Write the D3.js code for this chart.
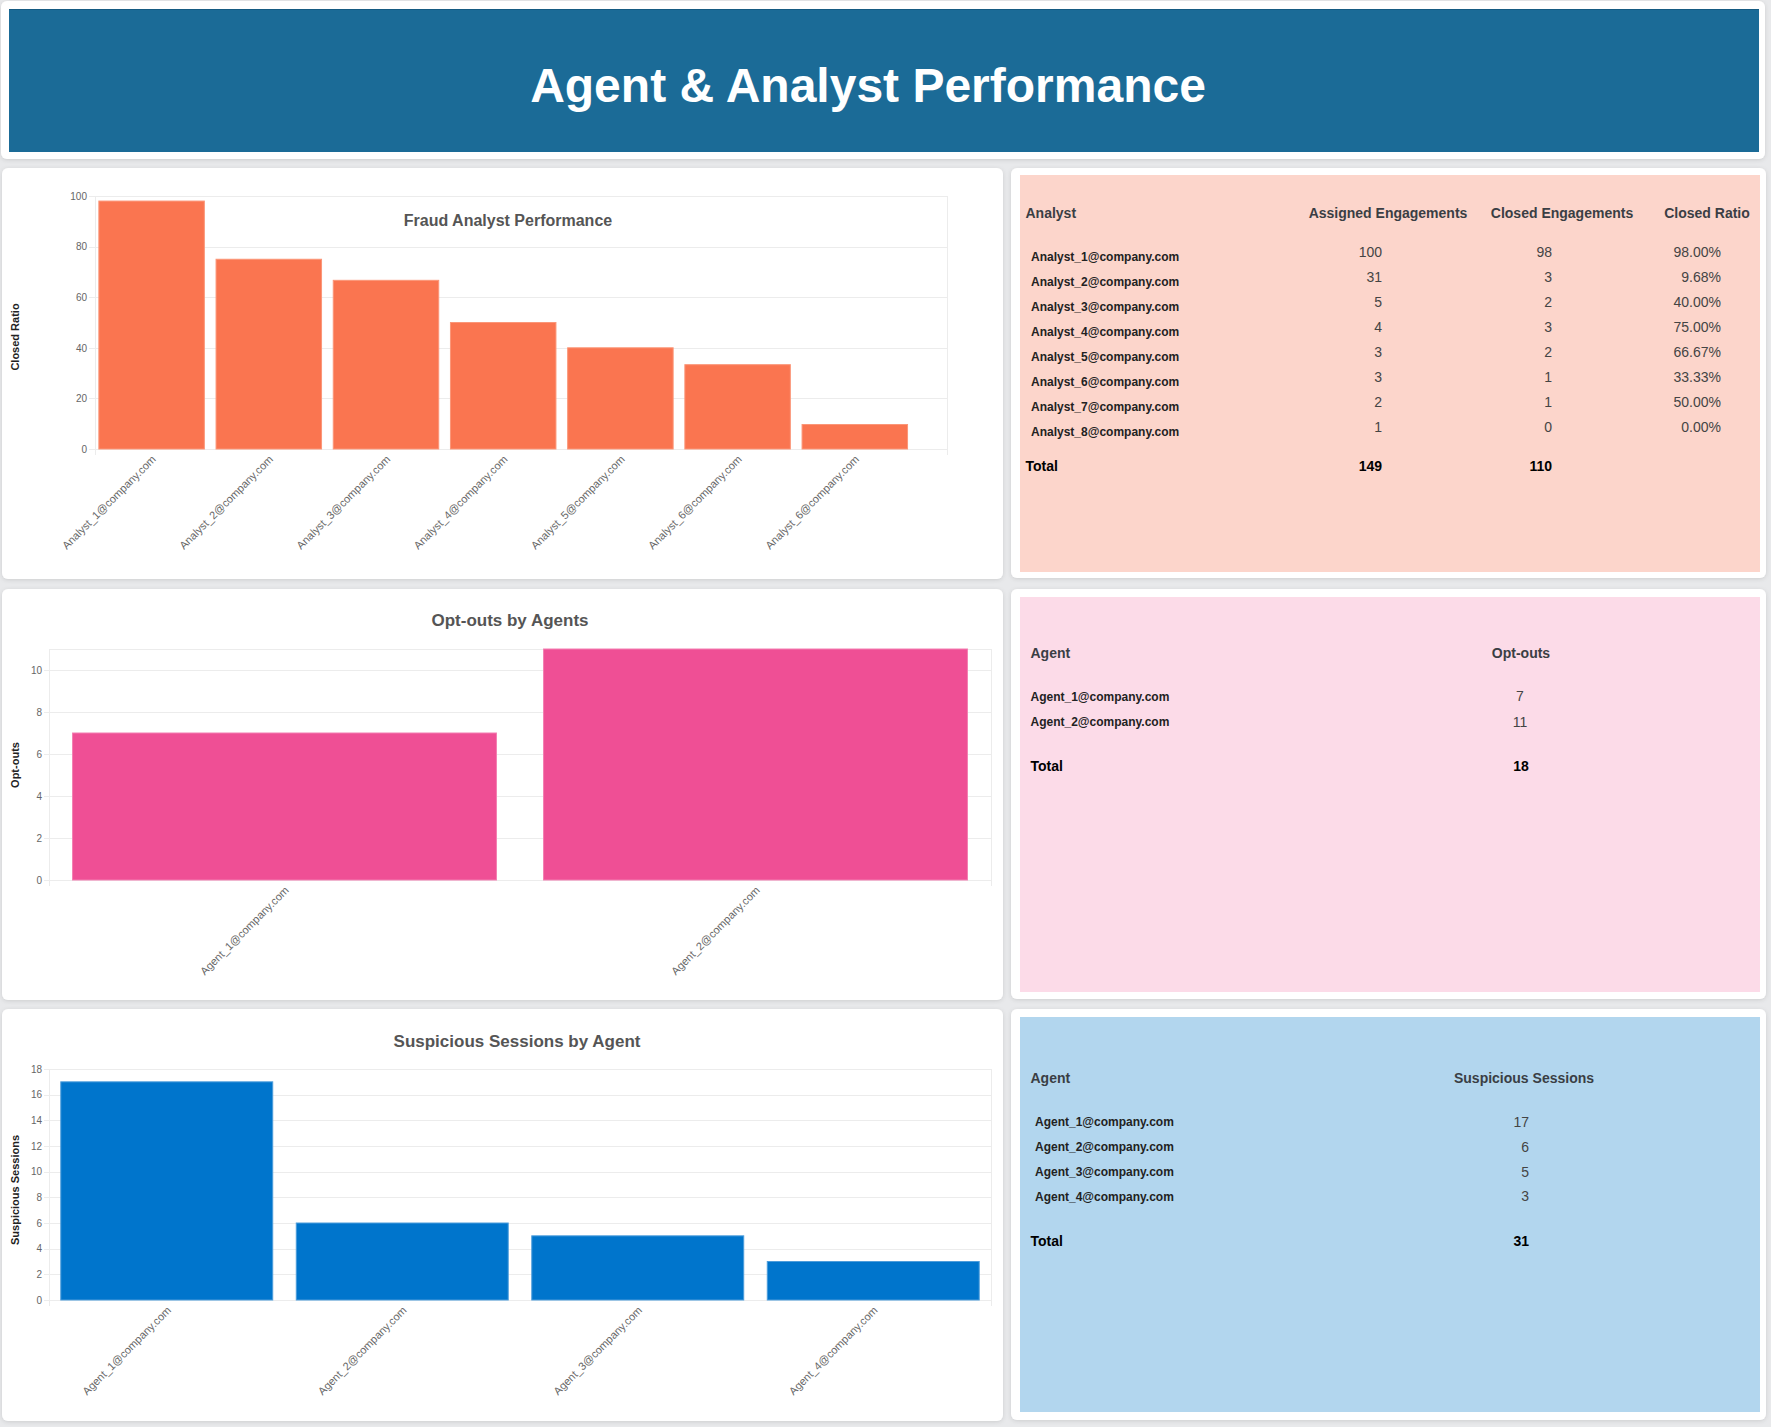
<!DOCTYPE html>
<html>
<head>
<meta charset="utf-8">
<script src="https://cdn.jsdelivr.net/npm/d3@7"></script>
<style>
  html, body { margin: 0; padding: 0; background: #e8e9eb; }
  svg { display: block; font-family: "Liberation Sans", Arial, sans-serif; }
</style>
</head>
<body>
<svg id="root" width="1771" height="1427"></svg>
<script>
// ---------- DATA ----------
const pageTitle = "Agent & Analyst Performance";

const ratioChartTitle = "Fraud Analyst Performance";
const ratioChartYLabel = "Closed Ratio";
const ratioChartCategories = ["Analyst_1@company.com","Analyst_2@company.com","Analyst_3@company.com","Analyst_4@company.com","Analyst_5@company.com","Analyst_6@company.com","Analyst_6@company.com"];
const ratioChartValues = [98, 75, 66.67, 50, 40, 33.33, 9.68];
const ratioChartTicks = [0, 20, 40, 60, 80, 100];

const analystHeaders = ["Analyst", "Assigned Engagements", "Closed Engagements", "Closed Ratio"];
const analystNames = ["Analyst_1@company.com","Analyst_2@company.com","Analyst_3@company.com","Analyst_4@company.com","Analyst_5@company.com","Analyst_6@company.com","Analyst_7@company.com","Analyst_8@company.com"];
const analystAssigned = [100, 31, 5, 4, 3, 3, 2, 1];
const analystClosed = [98, 3, 2, 3, 2, 1, 1, 0];
const analystRatio = ["98.00%", "9.68%", "40.00%", "75.00%", "66.67%", "33.33%", "50.00%", "0.00%"];
const analystTotals = ["Total", "149", "110"];

const optTitle = "Opt-outs by Agents";
const optYLabel = "Opt-outs";
const optAgents = ["Agent_1@company.com", "Agent_2@company.com"];
const optValues = [7, 11];
const optTicks = [0, 2, 4, 6, 8, 10];
const optHeaders = ["Agent", "Opt-outs"];
const optTotal = ["Total", "18"];

const suspTitle = "Suspicious Sessions by Agent";
const suspYLabel = "Suspicious Sessions";
const suspAgents = ["Agent_1@company.com", "Agent_2@company.com", "Agent_3@company.com", "Agent_4@company.com"];
const suspValues = [17, 6, 5, 3];
const suspTicks = [0, 2, 4, 6, 8, 10, 12, 14, 16, 18];
const suspHeaders = ["Agent", "Suspicious Sessions"];
const suspTotal = ["Total", "31"];

// ---------- DRAW ----------
const svg = d3.select("#root");
const defs = svg.append("defs");
const f = defs.append("filter").attr("id", "sh").attr("x", "-5%").attr("y", "-5%").attr("width", "110%").attr("height", "115%");
f.append("feDropShadow").attr("dx", 0).attr("dy", 1).attr("stdDeviation", 2).attr("flood-color", "#000").attr("flood-opacity", 0.12);

function card(x, y, w, h) {
  svg.append("rect").attr("x", x).attr("y", y).attr("width", w).attr("height", h)
    .attr("rx", 6).attr("fill", "#fff").attr("filter", "url(#sh)");
}

// header
card(1, 1, 1764, 158);
svg.append("rect").attr("x", 9).attr("y", 9).attr("width", 1750).attr("height", 143).attr("fill", "#1b6b97");
svg.append("line").attr("x1", 9).attr("x2", 1759).attr("y1", 9.5).attr("y2", 9.5).attr("stroke", "#155b82");
svg.append("text").attr("x", 868).attr("y", 102).attr("text-anchor", "middle")
  .attr("font-size", 48).attr("font-weight", "bold").attr("fill", "#fff").text(pageTitle);

// cards
card(2, 168, 1001, 411);
card(2, 589, 1001, 411);
card(2, 1009, 1001, 412);
card(1011, 168, 755, 410);
card(1011, 589, 755, 410);
card(1011, 1009, 755, 411);

const gridColor = "#ececec";

function barChart(o) {
  const g = svg.append("g");
  const y = d3.scaleLinear().domain(o.domain).range([o.y0, o.y1]);
  const x = d3.scaleBand().domain(d3.range(o.values.length)).range(o.xRange)
    .paddingInner(0.1).paddingOuter(0.05);

  // grid lines
  const yAxis = d3.axisLeft(y).tickValues(o.ticks).tickSize(-(o.plotRight - o.gridLeft)).tickPadding(o.gridLeft - o.labelRight + 2);
  const ag = g.append("g").attr("transform", `translate(${o.plotRight},0)`);
  const axG = g.append("g").attr("transform", `translate(${o.gridLeft},0)`)
    .call(d3.axisLeft(y).tickValues(o.ticks).tickSize(0).tickPadding(o.gridLeft - o.labelRight));
  axG.select(".domain").remove();
  axG.selectAll("text").attr("font-size", 10).attr("fill", "#666").attr("font-family", "Liberation Sans, Arial, sans-serif");
  g.append("g").selectAll("line").data(o.ticks).join("line")
    .attr("x1", o.gridLeft).attr("x2", o.plotRight)
    .attr("y1", d => Math.round(y(d)) + 0.5).attr("y2", d => Math.round(y(d)) + 0.5)
    .attr("stroke", gridColor).attr("stroke-width", 1);
  // top border
  g.append("line").attr("x1", o.plotLeft).attr("x2", o.plotRight)
    .attr("y1", o.y1 + 0.5).attr("y2", o.y1 + 0.5).attr("stroke", gridColor);
  // vertical borders
  [o.plotLeft, o.plotRight].forEach(px => {
    g.append("line").attr("x1", px + 0.5).attr("x2", px + 0.5)
      .attr("y1", o.y1).attr("y2", o.y0 + 6).attr("stroke", gridColor);
  });

  // bars
  g.append("g").selectAll("rect").data(o.values).join("rect")
    .attr("x", (d, i) => x(i)).attr("width", x.bandwidth())
    .attr("y", d => y(d)).attr("height", d => y(0) - y(d))
    .attr("fill", o.color).attr("stroke", o.stroke).attr("stroke-width", 1);

  // x labels
  g.append("g").selectAll("text").data(o.labels).join("text")
    .attr("transform", (d, i) => `translate(${x(i) + x.bandwidth() / 2 + 5},${o.y0 + 11}) rotate(-45)`)
    .attr("text-anchor", "end").attr("font-size", 11).attr("fill", "#666").text(d => d);

  // y title
  g.append("text").attr("transform", `translate(${o.yTitleX},${o.yTitleY}) rotate(-90)`)
    .attr("text-anchor", "middle").attr("dy", "0.35em").attr("font-size", 11).attr("font-weight", "bold")
    .attr("fill", "#222").text(o.yTitle);

  // chart title
  g.append("text").attr("x", o.titleX).attr("y", o.titleY).attr("dy", "0.35em").attr("text-anchor", "middle")
    .attr("font-size", o.titleSize).attr("font-weight", "bold").attr("fill", "#555").text(o.title);
}

barChart({
  values: ratioChartValues, labels: ratioChartCategories, ticks: ratioChartTicks,
  domain: [0, 100], y0: 449, y1: 196, xRange: [93, 913.4],
  plotLeft: 95, plotRight: 947, gridLeft: 89, labelRight: 87,
  color: "#fa7550", stroke: "#fb9678",
  title: ratioChartTitle, titleX: 508, titleY: 220, titleSize: 16,
  yTitle: ratioChartYLabel, yTitleX: 15, yTitleY: 337
});

barChart({
  values: optValues, labels: optAgents, ticks: optTicks,
  domain: [0, 11], y0: 880, y1: 649, xRange: [49, 991],
  plotLeft: 49, plotRight: 991, gridLeft: 44, labelRight: 42,
  color: "#ef4f95", stroke: "#f37fb1",
  title: optTitle, titleX: 510, titleY: 620, titleSize: 17,
  yTitle: optYLabel, yTitleX: 15, yTitleY: 765
});

barChart({
  values: suspValues, labels: suspAgents, ticks: suspTicks,
  domain: [0, 18], y0: 1300, y1: 1069, xRange: [49, 991],
  plotLeft: 49, plotRight: 991, gridLeft: 44, labelRight: 42,
  color: "#0075cc", stroke: "#4d9ddb",
  title: suspTitle, titleX: 517, titleY: 1041, titleSize: 17,
  yTitle: suspYLabel, yTitleX: 15, yTitleY: 1190
});

// ---------- TABLES ----------
function txt(g, x, y, s, opt) {
  return g.append("text").attr("x", x).attr("y", y).attr("dy", "0.35em")
    .attr("text-anchor", opt.anchor || "start").attr("font-size", opt.size)
    .attr("font-weight", opt.weight || "normal").attr("fill", opt.fill).text(s);
}
const headerStyle = { size: 14, weight: "bold", fill: "#3a3e44" };
const nameStyle = { size: 12, weight: "bold", fill: "#222" };
const valStyle = { size: 14, fill: "#444" };
const totStyle = { size: 14, weight: "bold", fill: "#000" };

// table 1
{
  const g = svg.append("g");
  g.append("rect").attr("x", 1020).attr("y", 175).attr("width", 740).attr("height", 397).attr("fill", "#fcd5cb");
  txt(g, 1025.5, 212.7, analystHeaders[0], headerStyle);
  txt(g, 1388, 212.7, analystHeaders[1], { ...headerStyle, anchor: "middle" });
  txt(g, 1562, 212.7, analystHeaders[2], { ...headerStyle, anchor: "middle" });
  txt(g, 1707, 212.7, analystHeaders[3], { ...headerStyle, anchor: "middle" });
  analystNames.forEach((n, i) => {
    txt(g, 1031, 256.7 + i * 25, n, nameStyle);
    txt(g, 1382, 251.7 + i * 25, analystAssigned[i], { ...valStyle, anchor: "end" });
    txt(g, 1552, 251.7 + i * 25, analystClosed[i], { ...valStyle, anchor: "end" });
    txt(g, 1721, 251.7 + i * 25, analystRatio[i], { ...valStyle, anchor: "end" });
  });
  txt(g, 1025.5, 465.7, analystTotals[0], totStyle);
  txt(g, 1382, 465.7, analystTotals[1], { ...totStyle, anchor: "end" });
  txt(g, 1552, 465.7, analystTotals[2], { ...totStyle, anchor: "end" });
}

// table 2
{
  const g = svg.append("g");
  g.append("rect").attr("x", 1020).attr("y", 597).attr("width", 740).attr("height", 395).attr("fill", "#fcdbe8");
  txt(g, 1030.5, 652.7, optHeaders[0], headerStyle);
  txt(g, 1521, 652.7, optHeaders[1], { ...headerStyle, anchor: "middle" });
  optAgents.forEach((n, i) => {
    txt(g, 1030.5, 696.5 + i * 25.3, n, nameStyle);
    txt(g, 1520, 696.5 + i * 25.3, optValues[i], { ...valStyle, anchor: "middle" });
  });
  txt(g, 1030.5, 765.7, optTotal[0], totStyle);
  txt(g, 1521, 765.7, optTotal[1], { ...totStyle, anchor: "middle" });
}

// table 3
{
  const g = svg.append("g");
  g.append("rect").attr("x", 1020).attr("y", 1017).attr("width", 740).attr("height", 395).attr("fill", "#b2d6ee");
  txt(g, 1030.5, 1078.3, suspHeaders[0], headerStyle);
  txt(g, 1524, 1078.3, suspHeaders[1], { ...headerStyle, anchor: "middle" });
  suspAgents.forEach((n, i) => {
    txt(g, 1035, 1122 + i * 24.8, n, nameStyle);
    txt(g, 1529, 1122 + i * 24.8, suspValues[i], { ...valStyle, anchor: "end" });
  });
  txt(g, 1030.5, 1240.7, suspTotal[0], totStyle);
  txt(g, 1529, 1240.7, suspTotal[1], { ...totStyle, anchor: "end" });
}
</script>
</body>
</html>
